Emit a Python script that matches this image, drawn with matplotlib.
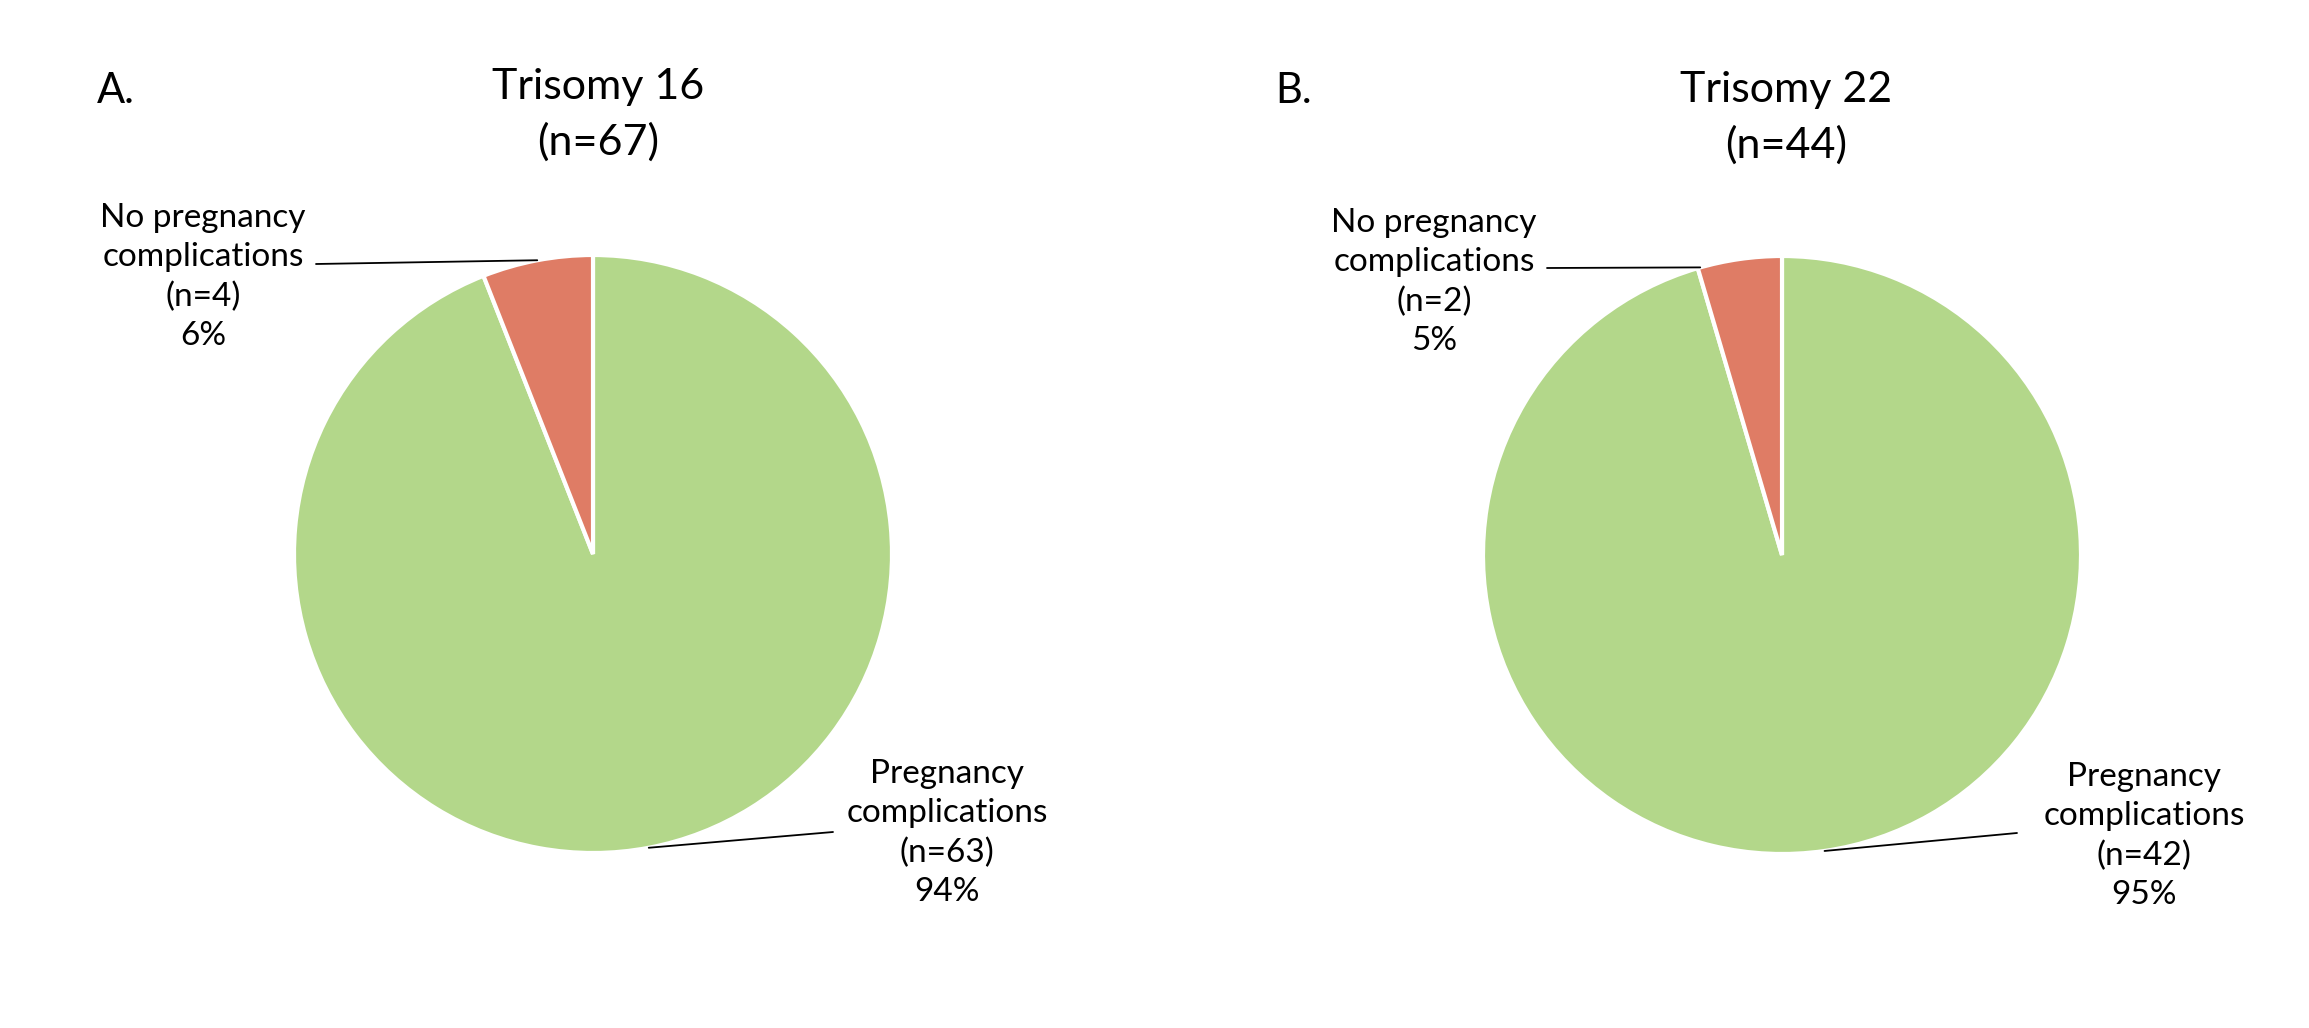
import numpy as np
import matplotlib
matplotlib.use("Agg")
import matplotlib.pyplot as plt

plt.rcParams["font.family"] = ["Lato", "DejaVu Sans"]

W, H = 2309, 1028

panels = ["A.", "B."]
conditions = ["Trisomy 16", "Trisomy 22"]
categories = ["Pregnancy complications", "No pregnancy complications"]
t16_counts = [63, 4]
t22_counts = [42, 2]
colors = ["#B3D78A", "#DF7C65"]

# layout in pixels from the top-left corner: pie centre, radius, label anchors
pie_centres = [(593, 554), (1782, 555)]
pie_radius = 299
letter_pos = [(97, 91), (1275, 91)]
title_pos = [(598, 115), (1786, 118)]
small_label_pos = [(203, 277), (1434, 282)]
small_line_start = [(316, 264), (1547, 268)]
# where along the small wedge's arc its leader line ends (0 = leading edge)
small_line_at = [0.5, 0.03]
big_label_pos = [(947, 833), (2144, 836)]
big_line_start = [(833, 832), (2017, 833)]

fig = plt.figure(figsize=(W / 100, H / 100), dpi=100)
fig.patch.set_facecolor("white")


def pie_point(start_deg, frac_before, frac, r=1.0):
    # point on the arc, frac of the way round from start_deg (clockwise)
    ang = np.deg2rad(start_deg - 360 * (frac_before + frac))
    return r * np.cos(ang), r * np.sin(ang)


for i, counts in enumerate([t16_counts, t22_counts]):
    cx, cy = pie_centres[i]
    ax = fig.add_axes([(cx - pie_radius) / W, (H - cy - pie_radius) / H,
                       2 * pie_radius / W, 2 * pie_radius / H])
    ax.pie(counts, colors=colors, startangle=90, counterclock=False,
           wedgeprops=dict(edgecolor="white", linewidth=3))
    ax.set_xlim(-1, 1)
    ax.set_ylim(-1, 1)
    ax.set_aspect("auto")
    ax.axis("off")

    total = sum(counts)
    fracs = [c / total for c in counts]

    fig.text(letter_pos[i][0] / W, 1 - letter_pos[i][1] / H, panels[i],
             fontsize=30, ha="left", va="center")
    fig.text(title_pos[i][0] / W, 1 - title_pos[i][1] / H,
             f"{conditions[i]}\n(n={total})", fontsize=31, ha="center",
             va="center", linespacing=1.5)

    # label for the large wedge
    big_txt = "Pregnancy\ncomplications\n(n={})\n{}%".format(
        counts[0], int(round(fracs[0] * 100)))
    fig.text(big_label_pos[i][0] / W, 1 - big_label_pos[i][1] / H, big_txt,
             fontsize=24, ha="center", va="center", linespacing=1.38)
    px, py = pie_point(90, 0, fracs[0] / 2)
    ax.annotate("", xy=(px, py), xycoords="data",
                xytext=(big_line_start[i][0], H - big_line_start[i][1]),
                textcoords="figure pixels",
                arrowprops=dict(arrowstyle="-", color="black", lw=1.3,
                                shrinkA=0, shrinkB=0))

    # label for the small wedge
    small_txt = "No pregnancy\ncomplications\n(n={})\n{}%".format(
        counts[1], int(round(fracs[1] * 100)))
    fig.text(small_label_pos[i][0] / W, 1 - small_label_pos[i][1] / H, small_txt,
             fontsize=24, ha="center", va="center", linespacing=1.38)
    px, py = pie_point(90, fracs[0], fracs[1] * small_line_at[i])
    ax.annotate("", xy=(px, py), xycoords="data",
                xytext=(small_line_start[i][0], H - small_line_start[i][1]),
                textcoords="figure pixels",
                arrowprops=dict(arrowstyle="-", color="black", lw=1.3,
                                shrinkA=0, shrinkB=0))

fig.savefig("out.png", dpi=100, facecolor="white")
